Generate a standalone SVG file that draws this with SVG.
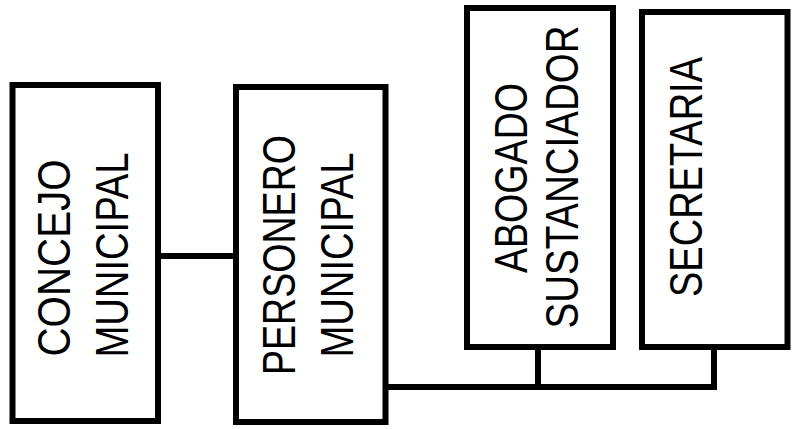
<svg xmlns="http://www.w3.org/2000/svg" width="793" height="429" viewBox="0 0 793 429">
<style>
.box{fill:#fff;stroke:#000;stroke-width:6}
.ln{fill:none;stroke:#000;stroke-width:6;stroke-linecap:square}
.t{font-family:"Liberation Sans",Arial,sans-serif;font-size:47px;fill:#000;text-anchor:middle}
</style>
<rect width="793" height="429" fill="#fff"/>
<g id="connectors">
<line class="ln" x1="158" y1="256" x2="236" y2="256"/>
<polyline class="ln" points="386,387 714,387 714,347"/>
<line class="ln" x1="538" y1="347" x2="538" y2="387"/>
</g>
<g id="concejo">
<rect class="box" x="12.5" y="85" width="145.5" height="336"/>
<text class="t" transform="translate(70,258) rotate(-90)" textLength="197" lengthAdjust="spacingAndGlyphs">CONCEJO</text>
<text class="t" transform="translate(128,255) rotate(-90)" textLength="205" lengthAdjust="spacingAndGlyphs">MUNICIPAL</text>
</g>
<g id="personero">
<rect class="box" x="236" y="87" width="149.5" height="335"/>
<text class="t" transform="translate(295,255) rotate(-90)" textLength="240" lengthAdjust="spacingAndGlyphs">PERSONERO</text>
<text class="t" transform="translate(353,255) rotate(-90)" textLength="205" lengthAdjust="spacingAndGlyphs">MUNICIPAL</text>
</g>
<g id="abogado">
<rect class="box" x="467" y="8" width="146" height="339"/>
<text class="t" transform="translate(527,178) rotate(-90)" textLength="190" lengthAdjust="spacingAndGlyphs">ABOGADO</text>
<text class="t" transform="translate(578,177) rotate(-90)" textLength="303" lengthAdjust="spacingAndGlyphs">SUSTANCIADOR</text>
</g>
<g id="secretaria">
<rect class="box" x="642" y="12" width="145.5" height="335"/>
<text class="t" transform="translate(702,177) rotate(-90)" textLength="240" lengthAdjust="spacingAndGlyphs">SECRETARIA</text>
</g>
</svg>
